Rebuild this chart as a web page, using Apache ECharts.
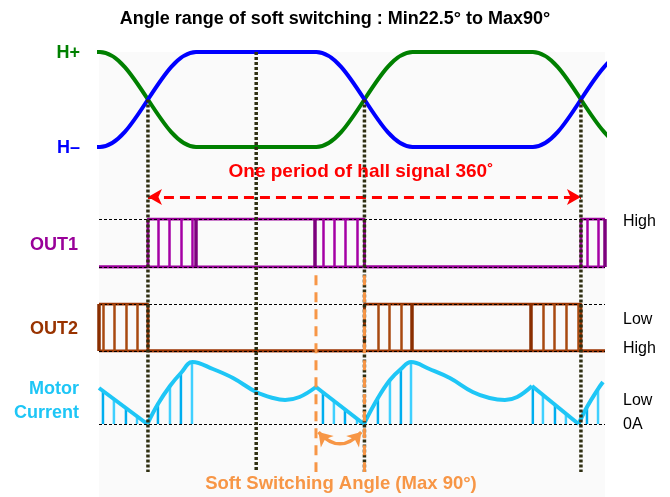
<!DOCTYPE html>
<html>
<head>
<meta charset="utf-8">
<script src="https://cdn.jsdelivr.net/npm/echarts@6/dist/echarts.min.js"></script>
<style>
  html, body { margin: 0; padding: 0; background: #fff; }
  #chart { width: 670px; height: 497px; }
</style>
</head>
<body>
<div id="chart"></div>
<script>
// angle axis in degrees, one hall period runs 0 .. 360
const angleRange = [-40.7, 380]
const guideAngles = [0, 90, 180, 360]
const guideStarts = [0.5, 1, 0.5, 0.5]        // hall level where each guide starts
const hallFloor = -3.42                       // hall scale value at the guides' bottom end

// hall sensor levels (1 = H+, 0 = H-), flat ends and transition ends
const hallPlus = [[-120, 1], [-40, 1], [40, 0], [140, 0], [220, 1], [320, 1], [400, 0], [480, 0]]
const hallMinus = [[-120, 0], [-40, 0], [40, 1], [140, 1], [220, 0], [320, 0], [400, 1], [480, 1]]

// output levels (1 = drawn up, 0 = drawn down)
const out1Level = [[-40.7, 0], [0, 0], [0, 1], [180, 1], [180, 0], [360, 0], [360, 1], [380, 1]]
const out1Pwm = [8.3, 17.5, 27.4, 36.6, 145.5, 154.6, 163.8, 173.8, 365, 374.2]
const out1Edges = [39.9, 138.8, 380]
const out2Level = [[-40.7, 1], [0, 1], [0, 0], [180, 0], [180, 1], [360, 1], [360, 0], [380, 0]]
const out2Pwm = [-37.4, -28.3, -18.3, -9.1, 191.2, 200.4, 210.3, 328.4, 337.5, 347.5, 357.5]
const out2Edges = [-40.5, 219.5, 318.4]

// motor current, straight falls and curved rises
const currentFalls = [
  [[-40.7, 36], [-0.5, 0]],
  [[139.7, 37], [179.5, 0]],
  [[319.3, 38], [358, 0]]
]
const currentRises = [
  [[-0.5, 0], [8.3, 20], [18.3, 38], [27.4, 51], [37, 62], [54, 55], [70.7, 46], [90, 32], [104, 26], [114, 24], [126, 27], [139.7, 37]],
  [[179.5, 0], [191.2, 26], [201.2, 44], [210.3, 55], [218.7, 62], [234, 55], [251, 46], [270, 32], [284, 26], [296.8, 24], [307, 27], [319.3, 38]],
  [[358, 0], [365, 17], [374.2, 35], [378.3, 42]]
]
const currentStems = [
  [-37.4, 33], [-28.3, 25], [-18.3, 16.5], [-9.1, 8.5],
  [8.3, 20], [18.3, 38], [27.4, 51], [36.6, 61],
  [145.5, 31.5], [154.6, 23.5], [163.8, 15], [173.8, 6],
  [191.2, 26], [201.2, 44], [210.3, 55], [218.7, 62],
  [320, 37], [328.4, 29], [338.4, 19.5], [347.5, 10.5],
  [365, 17], [374.2, 35]
]

// annotations on the hall scale
const periodArrow = [[0, -0.526], [360, -0.526]]
const softLines = [139.7, 180]
const softTop = -1.35
const softArc = [[141.8, -3.0], [177.4, -3.0]]

const FONT = 'Liberation Sans, Arial, sans-serif'
const GREEN = '#008000'
const BLUE = '#0000ff'
const PURPLE = '#990099'
const BROWN = '#993300'
const CYAN = '#1ec6f6'
const ORANGE = '#f79646'
const GUIDE = '#2f2f12'

const chart = echarts.init(document.getElementById('chart'), null, { renderer: 'canvas' })

const grids = [
  { left: 99, right: 65, top: 52, height: 420 },   // hall + guides
  { left: 99, right: 65, top: 219, height: 48 },   // OUT1
  { left: 99, right: 65, top: 304, height: 47 },   // OUT2
  { left: 99, right: 65, top: 352, height: 72 }    // current
]
const yRanges = [[hallFloor, 1], [0, 1], [0, 1], [0, 72]]

const xAxes = grids.map((g, i) => ({
  type: 'value', gridIndex: i, min: angleRange[0], max: angleRange[1], show: false
}))
const yAxes = yRanges.map((r, i) => ({
  type: 'value', gridIndex: i, min: r[0], max: r[1], show: false
}))

const dashedLevel = (vals) => ({
  silent: true,
  symbol: 'none',
  label: { show: false },
  lineStyle: { color: '#000', width: 1.2, type: [3, 2] },
  data: vals.map(v => ({ yAxis: v }))
})

const verticals = (xs, color, width) => ({
  silent: true,
  symbol: 'none',
  label: { show: false },
  lineStyle: { color: color, width: width, type: 'solid' },
  data: xs.map(x => ({ xAxis: x }))
})

const line = (data, grid, color, width, extra) => Object.assign({
  type: 'line',
  xAxisIndex: grid,
  yAxisIndex: grid,
  data: data,
  symbol: 'none',
  silent: true,
  lineStyle: { color: color, width: width },
  z: 3
}, extra || {})

const series = []

// hall signals
series.push(line(hallPlus, 0, GREEN, 4, { smooth: 0.36, smoothMonotone: 'x' }))
series.push(line(hallMinus, 0, BLUE, 4, { smooth: 0.36, smoothMonotone: 'x' }))

// OUT1
series.push(line([[angleRange[0], 0], [angleRange[1], 0]], 1, PURPLE, 3, {
  markLine: dashedLevel([0, 1])
}))
series.push(line(out1Level, 1, PURPLE, 3, {
  markLine: verticals(out1Pwm, '#a400a4', 2.5)
}))
series.push(line([], 1, PURPLE, 3, { markLine: verticals(out1Edges, '#7d007d', 3.5) }))

// OUT2
series.push(line([[angleRange[0], 0], [angleRange[1], 0]], 2, BROWN, 3, {
  markLine: dashedLevel([0, 1])
}))
series.push(line(out2Level, 2, BROWN, 3, {
  markLine: verticals(out2Pwm, '#a8490f', 2.5)
}))
series.push(line([], 2, BROWN, 3, { markLine: verticals(out2Edges, '#8a2e00', 3.5) }))

// motor current
series.push({
  type: 'bar',
  xAxisIndex: 3,
  yAxisIndex: 3,
  data: currentStems,
  barWidth: 2.5,
  silent: true,
  itemStyle: { color: (p) => (p.dataIndex % 2 ? '#3fd0ff' : '#00aeef') },
  z: 2
})
series.push(line([[angleRange[0], 0], [angleRange[1], 0]], 3, 'rgba(0,0,0,0)', 0, {
  markLine: dashedLevel([0])
}))
currentFalls.forEach(seg => series.push(line(seg, 3, CYAN, 4)))
currentRises.forEach(seg => series.push(line(seg, 3, CYAN, 4, { smooth: 0.4 })))

// dotted guides
guideAngles.forEach((a, i) => {
  series.push(line([[a, guideStarts[i]], [a, hallFloor]], 0, GUIDE, 3.5, {
    lineStyle: { color: GUIDE, width: 3.5, type: [3, 2], cap: 'butt' },
    z: 5
  }))
})

// soft switching marks
softLines.forEach(a => {
  series.push(line([[a, softTop], [a, hallFloor]], 0, ORANGE, 3, {
    lineStyle: { color: ORANGE, width: 3, type: [10, 7] },
    z: 6
  }))
})
series.push({
  type: 'lines',
  coordinateSystem: 'cartesian2d',
  xAxisIndex: 0,
  yAxisIndex: 0,
  silent: true,
  z: 6,
  symbol: ['arrow', 'arrow'],
  symbolSize: 13,
  lineStyle: { color: ORANGE, width: 3.5, curveness: -0.55, opacity: 1 },
  data: [{ coords: softArc }]
})

// one hall period arrow
series.push(line([], 0, 'red', 3, {
  z: 6,
  markLine: {
    silent: true,
    symbol: ['arrow', 'arrow'],
    symbolSize: [12, 14],
    label: { show: false },
    lineStyle: { color: '#ff0000', width: 3, type: [10, 6] },
    data: [[{ coord: periodArrow[0] }, { coord: periodArrow[1] }]]
  }
}))

const label = (text, x, y, color, size, align) => ({
  type: 'text',
  x: x,
  y: y,
  z: 100,
  style: {
    text: text,
    fill: color,
    font: 'bold ' + (size || 18) + 'px ' + FONT,
    textAlign: align || 'right',
    textVerticalAlign: 'middle'
  }
})

const plain = (text, y) => ({
  type: 'text', x: 623, y: y, z: 100,
  style: { text: text, fill: '#000', font: '16px ' + FONT, textAlign: 'left', textVerticalAlign: 'middle' }
})

chart.setOption({
  animation: false,
  backgroundColor: '#fff',
  title: {
    text: 'Angle range of soft switching : Min22.5° to Max90°',
    left: 'center',
    top: 5,
    textStyle: { fontFamily: FONT, fontSize: 18, fontWeight: 'bold', color: '#000' }
  },
  grid: grids,
  xAxis: xAxes,
  yAxis: yAxes,
  series: series,
  graphic: [
    { type: 'rect', z: -10, shape: { x: 99, y: 52, width: 506, height: 445 }, style: { fill: '#fafafa' } },
    label('H+', 80, 53, GREEN),
    label('H–', 80, 148, BLUE),
    label('OUT1', 78, 245, PURPLE),
    label('OUT2', 78, 329, BROWN),
    label('Motor', 79, 389, CYAN),
    label('Current', 79, 413, CYAN),
    label('One period of hall signal 360˚', 361, 172, '#ff0000', 19, 'center'),
    label('Soft Switching Angle (Max 90°)', 341, 484, ORANGE, 18.5, 'center'),
    plain('High', 222),
    plain('Low', 320),
    plain('High', 349),
    plain('Low', 401),
    plain('0A', 425)
  ]
})
</script>
</body>
</html>
